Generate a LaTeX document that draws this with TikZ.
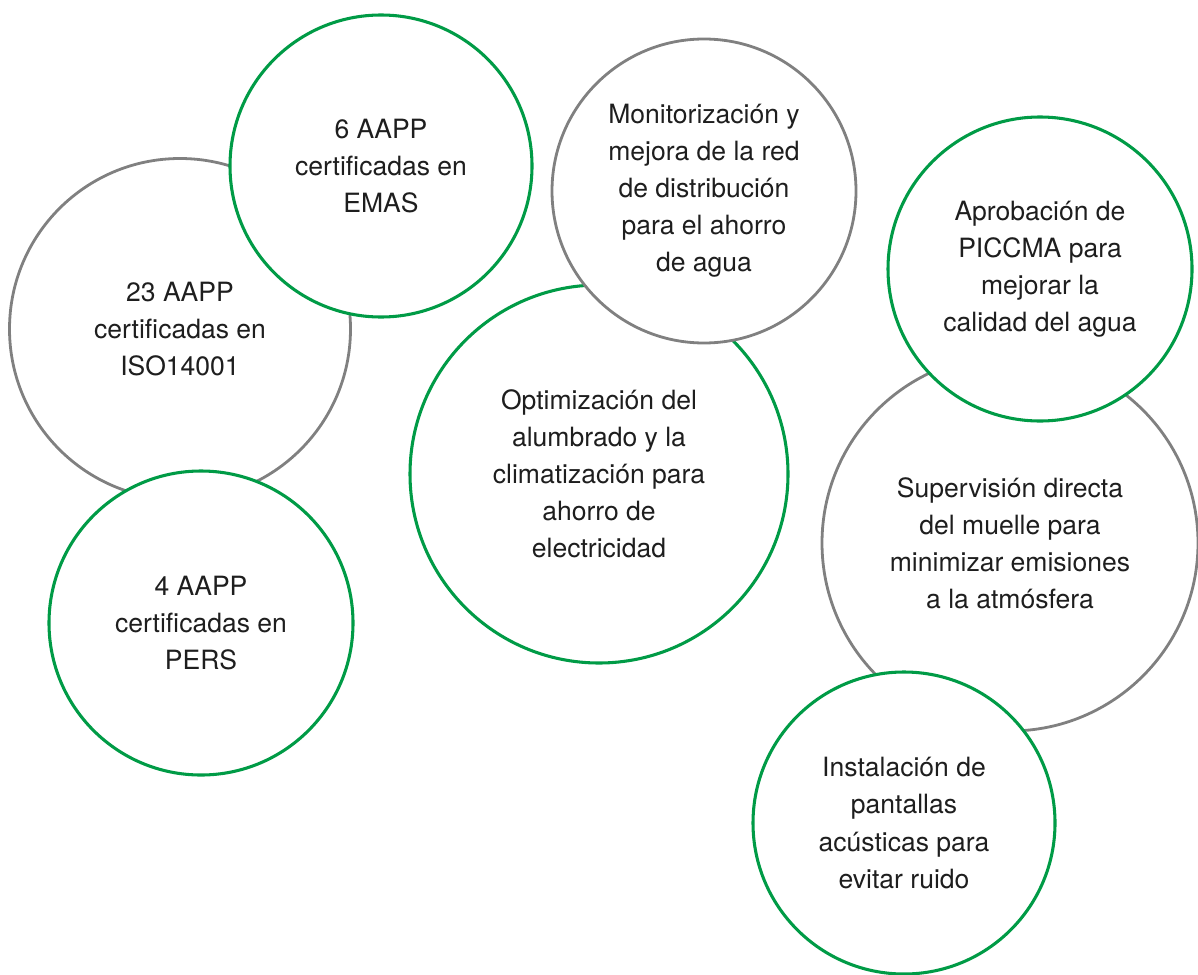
\documentclass[tikz,border=0pt]{standalone}
\usepackage{fontspec}
\setmainfont{TeX Gyre Heros}
\usepackage{xcolor}
\usetikzlibrary{positioning}
\definecolor{ringgreen}{RGB}{0,155,70}
\definecolor{ringgray}{RGB}{128,128,128}
\definecolor{textdark}{RGB}{30,30,30}
\tikzset{
    % Rings
    ring/.style={
        circle,
        fill=white,
        inner sep=0pt,
        align=center,
        text=textdark,
        font=\fontsize{19.9}{27.8}\selectfont
    },
    greenring/.style={
        ring,
        draw=ringgreen,
        line width=2.3pt
    },
    grayring/.style={
        ring,
        draw=ringgray,
        line width=2.1pt
    }
}

\begin{document}
\begin{tikzpicture}[x=0.75pt, y=-0.75pt]

    % Canvas
    \useasboundingbox (0,0) rectangle (1198,974);

    % Left group: certifications
    \node[grayring, minimum size=255.75pt] (iso) at (180,329) {23 AAPP\\certificadas en\\ISO14001};
    \node[greenring, minimum size=226.5pt] (emas) at (381,166) {6 AAPP\\certificadas en\\EMAS};
    \node[greenring, minimum size=228pt] (pers) at (201,623) {4 AAPP\\certificadas en\\PERS};

    % Middle group: energy and water
    \node[greenring, minimum size=283.5pt] (lighting) at (599,474) {Optimización del\\alumbrado y la\\climatización para\\ahorro de\\electricidad};
    \node[grayring, minimum size=228pt] (network) at (704,191) {Monitorización y\\mejora de la red\\de distribución\\para el ahorro\\de agua};

    % Right group: port measures
    \node[grayring, minimum size=282pt] (dock) at (1010,543) {Supervisión directa\\del muelle para\\minimizar emisiones\\a la atmósfera};
    \node[greenring, minimum size=228pt] (piccma) at (1040,269) {Aprobación de\\PICCMA para\\mejorar la\\calidad del agua};
    \node[greenring, minimum size=226.5pt] (screens) at (904,823) {Instalación de\\pantallas\\acústicas para\\evitar ruido};

\end{tikzpicture}
\end{document}
